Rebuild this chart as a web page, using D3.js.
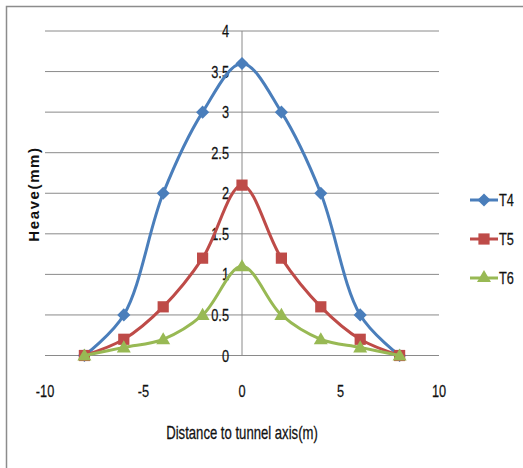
<!DOCTYPE html>
<html><head><meta charset="utf-8">
<script src="https://cdn.jsdelivr.net/npm/d3@7/dist/d3.min.js"></script>
<style>body{margin:0;background:#fff}</style>
</head><body>
<script>
const distances = [-8, -6, -4, -2, 0, 2, 4, 6, 8];
const t4 = [0, 0.5, 2, 3, 3.6, 3, 2, 0.5, 0];
const t5 = [0, 0.2, 0.6, 1.2, 2.1, 1.2, 0.6, 0.2, 0];
const t6 = [0, 0.1, 0.2, 0.5, 1.1, 0.5, 0.2, 0.1, 0];
const seriesNames = ["T4", "T5", "T6"];
const xTicks = [-10, -5, 0, 5, 10];
const yTicks = [0, 0.5, 1, 1.5, 2, 2.5, 3, 3.5, 4];

const W = 523, H = 468;
const svg = d3.select("body").append("svg").attr("width", W).attr("height", H);
const font = "'Liberation Sans','Arial',sans-serif";
const SX = 0.75;

svg.append("rect").attr("x", 6.5).attr("y", 6.5).attr("width", 530).attr("height", 480)
  .attr("fill", "#fff").attr("stroke", "#8c8c8c").attr("stroke-width", 1.5);

const x = d3.scaleLinear().domain([-10, 10]).range([45, 439]);
const y = d3.scaleLinear().domain([0, 4]).range([355.5, 31]);

function label(parent, tx, ty, txt, anchor, size) {
  parent.append("g").attr("transform", `translate(${tx},${ty}) scale(${SX},1)`)
    .append("text").attr("text-anchor", anchor).attr("font-family", font)
    .attr("font-size", size).attr("fill", "#111").attr("stroke", "#111").attr("stroke-width", 0.25)
    .text(txt);
}

svg.append("g").selectAll("line").data(yTicks).join("line")
  .attr("x1", x(-10)).attr("x2", x(10)).attr("y1", d => y(d)).attr("y2", d => y(d))
  .attr("stroke", "#8a8a8a").attr("stroke-width", 1);
svg.append("line").attr("x1", x(0)).attr("x2", x(0)).attr("y1", y(4)).attr("y2", y(0))
  .attr("stroke", "#8a8a8a").attr("stroke-width", 1);

const yl = svg.append("g");
yTicks.forEach(d => label(yl, x(0) - 13, y(d) + 6, d, "end", 17));
const xl = svg.append("g");
xTicks.forEach(d => label(xl, x(d), 397, d, "middle", 17));

label(svg, x(0), 439, "Distance to tunnel axis(m)", "middle", 17.5);

svg.append("text").attr("transform", `translate(39,194) rotate(-90)`).attr("text-anchor", "middle")
  .attr("font-family", "'Liberation Sans',Arial,sans-serif").attr("font-weight", "bold")
  .attr("font-size", 15).attr("letter-spacing", 1.6).attr("fill", "#111")
  .text("Heave(mm)");

const series = [
  {name: seriesNames[0], values: t4, color: "#4a7ebb", symbol: d3.symbolDiamond2, size: 110},
  {name: seriesNames[1], values: t5, color: "#be4b48", symbol: d3.symbolSquare2, size: 160},
  {name: seriesNames[2], values: t6, color: "#98b954", symbol: d3.symbolTriangle2, size: 140}
];

const line = d3.line().x((d, i) => x(distances[i])).y(d => y(d)).curve(d3.curveCatmullRom.alpha(0.5));

function marker(sel, s) {
  sel.attr("d", d3.symbol().type(s.symbol).size(s.size)()).attr("fill", s.color);
}

series.forEach(s => {
  const g = svg.append("g");
  g.append("path").datum(s.values).attr("d", line).attr("fill", "none")
    .attr("stroke", s.color).attr("stroke-width", 3);
  g.selectAll("path.m").data(s.values).join("path").attr("class", "m")
    .attr("transform", (d, i) => `translate(${x(distances[i])},${y(d) + (s.symbol === d3.symbolTriangle2 ? 1 : 0)})`)
    .call(sel => marker(sel, s));
});

const lg = svg.append("g");
series.forEach((s, i) => {
  const ly = 200 + i * 39;
  lg.append("line").attr("x1", 470).attr("x2", 498).attr("y1", ly).attr("y2", ly)
    .attr("stroke", s.color).attr("stroke-width", 3);
  lg.append("path").attr("transform", `translate(484,${ly})`).call(sel => marker(sel, s));
  label(lg, 499, ly + 6, s.name, "start", 17);
});
</script>
</body></html>
